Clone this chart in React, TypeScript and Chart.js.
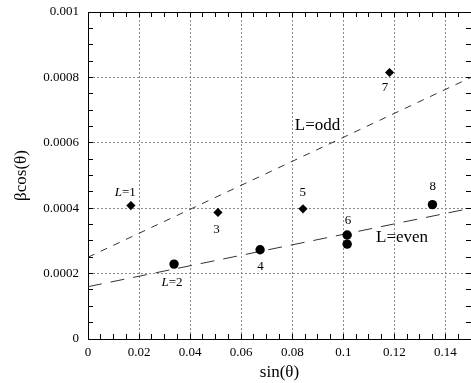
import { useEffect, useRef } from 'react';
import { Chart, registerables } from 'chart.js';

Chart.register(...registerables);

// ---- data ----
const oddX = [0.0168, 0.0509, 0.0842, 0.1181];
const oddY = [0.000408, 0.000387, 0.000398, 0.000815];
const evenX = [0.0337, 0.0674, 0.1015, 0.1015, 0.1349];
const evenY = [0.000229, 0.000273, 0.000318, 0.00029, 0.000411];
const oddFitX = [0, 0.15];
const oddFitY = [0.00025, 0.0008];
const evenFitX = [0, 0.15];
const evenFitY = [0.00016, 0.0004];

// ---- axes ----
const xMin = 0;
const xMax = 0.15;
const xMinorStep = 0.005;
const xMajorStep = 0.02;
const yMin = 0;
const yMax = 0.001;
const yMinorStep = 0.00005;
const yMajorStep = 0.0002;
const xTitle = 'sin(θ)';
const yTitle = 'βcos(θ)';

// ---- annotations ----
const labelTexts = ['L=1', 'L=2', '3', '4', '5', '6', '7', '8', 'L=odd', 'L=even'];
const labelX = [0.0146, 0.0329, 0.0503, 0.0676, 0.0841, 0.1018, 0.1163, 0.135, 0.0899, 0.123];
const labelY = [0.000447, 0.000172, 0.000336, 0.000221, 0.000448, 0.000361, 0.000768, 0.000466, 0.000652, 0.000309];
const labelItalicL = [true, true, false, false, false, false, false, false, false, false];
const labelBig = [false, false, false, false, false, false, false, false, true, true];

const FONT = "'Liberation Serif', 'Times New Roman', serif";

const makeTicks = (min: number, max: number, step: number) => {
  const n = Math.round((max - min) / step);
  return Array.from({ length: n + 1 }, (_, i) => ({ value: +(min + i * step).toFixed(8) }));
};
const isMajor = (v: number, major: number) => Math.abs(v / major - Math.round(v / major)) < 1e-6;
const fmt = (v: number) => String(+v.toFixed(8));

const fix = (size: number, horizontal: boolean) => (scale: any) => {
  if (horizontal) scale.height = size;
  else scale.width = size;
  scale.paddingLeft = 0;
  scale.paddingRight = 0;
  scale.paddingTop = 0;
  scale.paddingBottom = 0;
};

const labelPlugin = {
  id: 'pointLabels',
  afterDatasetsDraw(chart: any) {
    const { ctx, scales } = chart;
    const x = scales.x;
    const y = scales.y;
    ctx.save();
    ctx.fillStyle = '#000';
    ctx.textBaseline = 'middle';
    labelTexts.forEach((t, i) => {
      const px = x.getPixelForValue(labelX[i]);
      const py = y.getPixelForValue(labelY[i]);
      const size = labelBig[i] ? 17 : 13;
      if (labelItalicL[i]) {
        const first = t.slice(0, 1);
        const rest = t.slice(1);
        ctx.font = `italic ${size}px ${FONT}`;
        const w1 = ctx.measureText(first).width;
        ctx.font = `${size}px ${FONT}`;
        const w2 = ctx.measureText(rest).width;
        const start = px - (w1 + w2) / 2;
        ctx.textAlign = 'left';
        ctx.font = `italic ${size}px ${FONT}`;
        ctx.fillText(first, start, py);
        ctx.font = `${size}px ${FONT}`;
        ctx.fillText(rest, start + w1, py);
      } else {
        ctx.font = `${size}px ${FONT}`;
        ctx.textAlign = 'center';
        ctx.fillText(t, px, py);
      }
    });
    ctx.restore();
  },
};

export default function App() {
  const ref = useRef<HTMLCanvasElement | null>(null);

  useEffect(() => {
    if (!ref.current) return;
    const tickFont = { family: FONT, size: 13 };
    const gridColor = (major: number) => (c: any) =>
      c.tick && isMajor(c.tick.value, major) ? '#8a8a8a' : 'transparent';

    const chart = new Chart(ref.current, {
      type: 'scatter',
      data: {
        datasets: [
          {
            label: 'odd',
            data: oddX.map((v, i) => ({ x: v, y: oddY[i] })),
            pointStyle: 'rectRot',
            pointRadius: 4.6,
            pointBackgroundColor: '#000',
            pointBorderWidth: 0,
            showLine: false,
          },
          {
            label: 'even',
            data: evenX.map((v, i) => ({ x: v, y: evenY[i] })),
            pointStyle: 'circle',
            pointRadius: 4.7,
            pointBackgroundColor: '#000',
            pointBorderWidth: 0,
            showLine: false,
          },
          {
            label: 'L=odd fit',
            data: oddFitX.map((v, i) => ({ x: v, y: oddFitY[i] })),
            showLine: true,
            borderColor: '#333',
            borderWidth: 1,
            borderDash: [7, 7],
            pointRadius: 0,
            fill: false,
          },
          {
            label: 'L=even fit',
            data: evenFitX.map((v, i) => ({ x: v, y: evenFitY[i] })),
            showLine: true,
            borderColor: '#333',
            borderWidth: 1,
            borderDash: [14, 9],
            pointRadius: 0,
            fill: false,
          },
        ],
      },
      options: {
        animation: false,
        responsive: false,
        devicePixelRatio: 1,
        layout: { autoPadding: false, padding: { top: 12, right: 0, bottom: 0, left: 0 } },
        plugins: { legend: { display: false }, tooltip: { enabled: false } },
        scales: {
          x: {
            type: 'linear',
            position: 'bottom',
            min: xMin,
            max: xMax,
            afterBuildTicks: (s: any) => { s.ticks = makeTicks(xMin, xMax, xMinorStep); },
            afterFit: fix(44, true),
            ticks: {
              autoSkip: false,
              maxRotation: 0,
              padding: 11,
              color: '#000',
              font: tickFont,
              callback: (v: any) => (isMajor(+v, xMajorStep) ? fmt(+v) : ''),
            },
            grid: { color: gridColor(xMajorStep), lineWidth: 1, tickLength: -5, tickColor: '#000', tickWidth: 1 },
            border: { color: '#000', width: 1, dash: [2, 2] },
            title: { display: true, text: xTitle, color: '#000', font: { family: FONT, size: 17 }, padding: { top: 0, bottom: 0 } },
          },
          y: {
            type: 'linear',
            position: 'left',
            min: yMin,
            max: yMax,
            afterBuildTicks: (s: any) => { s.ticks = makeTicks(yMin, yMax, yMinorStep); },
            afterFit: fix(88, false),
            ticks: {
              autoSkip: false,
              padding: 14,
              color: '#000',
              font: tickFont,
              callback: (v: any) => (isMajor(+v, yMajorStep) ? fmt(+v) : ''),
            },
            grid: { color: gridColor(yMajorStep), lineWidth: 1, tickLength: -5, tickColor: '#000', tickWidth: 1 },
            border: { color: '#000', width: 1, dash: [2, 2] },
            title: { display: true, text: yTitle, color: '#000', font: { family: FONT, size: 17 }, padding: { top: 11, bottom: 0 } },
          },
          x2: {
            type: 'linear',
            position: 'top',
            min: xMin,
            max: xMax,
            afterBuildTicks: (s: any) => { s.ticks = makeTicks(xMin, xMax, xMinorStep); },
            afterFit: fix(0, true),
            ticks: { display: false, autoSkip: false },
            grid: { drawOnChartArea: false, tickLength: -5, tickColor: '#000', tickWidth: 1 },
            border: { color: '#000', width: 1 },
          },
          y2: {
            type: 'linear',
            position: 'right',
            min: yMin,
            max: yMax,
            afterBuildTicks: (s: any) => { s.ticks = makeTicks(yMin, yMax, yMinorStep); },
            afterFit: fix(0, false),
            ticks: { display: false, autoSkip: false },
            grid: { drawOnChartArea: false, tickLength: -5, tickColor: '#000', tickWidth: 1 },
            border: { color: '#000', width: 1 },
          },
        },
      } as any,
      plugins: [labelPlugin],
    });
    return () => chart.destroy();
  }, []);

  return (
    <div style={{ position: 'fixed', left: 0, top: 0, width: 471, height: 383, background: '#fff' }}>
      <canvas ref={ref} width={471} height={383} style={{ display: 'block' }} />
    </div>
  );
}
